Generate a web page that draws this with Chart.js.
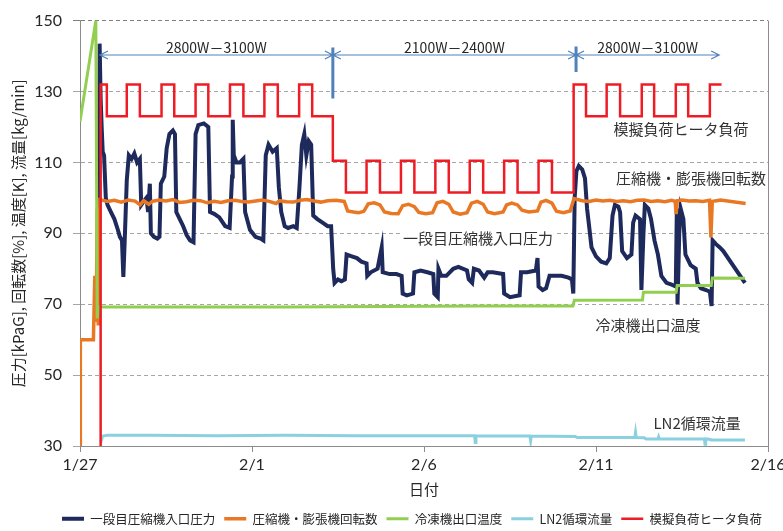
<!DOCTYPE html>
<html lang="ja">
<head>
<meta charset="utf-8">
<title>冷凍機試験データ</title>
<script src="https://cdn.jsdelivr.net/npm/chart.js@4.4.1/dist/chart.umd.min.js"></script>
<style>
  html, body { margin: 0; padding: 0; background: #fff; }
  canvas { display: block; }
</style>
</head>
<body>
<canvas id="chart1" width="783" height="531"></canvas>
<script>
    // 横軸: 1/27 からの経過日数
    var tickDays = [0, 5, 10, 15, 20];
    var tickLabels = ['1/27', '2/1', '2/6', '2/11', '2/16'];

    var seriesNames = ['一段目圧縮機入口圧力', '圧縮機・膨張機回転数', '冷凍機出口温度', 'LN2循環流量', '模擬負荷ヒータ負荷'];

    // 一段目圧縮機入口圧力 [kPaG]  ([日, 値])
    var pressData = [
        [0.55, 66], [0.57, 143.5], [0.60, 128], [0.63, 120], [0.66, 113], [0.70, 112], [0.75, 100], [0.80, 98],
        [0.90, 96], [1.00, 94], [1.10, 91], [1.16, 89], [1.22, 88], [1.26, 77.7], [1.30, 88], [1.36, 105],
        [1.42, 112], [1.50, 111], [1.58, 112.5], [1.66, 110], [1.74, 111], [1.78, 98], [1.85, 99], [1.93, 100],
        [1.98, 96], [2.03, 104], [2.06, 90], [2.15, 89], [2.25, 88.5], [2.31, 89], [2.35, 104], [2.45, 106],
        [2.52, 114], [2.60, 118], [2.70, 119], [2.76, 118], [2.80, 96], [2.90, 94], [3.00, 92], [3.10, 89.5],
        [3.20, 88], [3.30, 87.5], [3.36, 118], [3.44, 120.5], [3.60, 121], [3.73, 120], [3.78, 96], [3.90, 95.5],
        [4.05, 94.5], [4.22, 92], [4.35, 91.5], [4.42, 106], [4.44, 122], [4.47, 112], [4.55, 110], [4.65, 110],
        [4.75, 111], [4.80, 96], [4.94, 91], [5.10, 89], [5.25, 88.5], [5.33, 88], [5.40, 112], [5.48, 115],
        [5.60, 113], [5.72, 114], [5.78, 103], [5.85, 96], [5.95, 92], [6.05, 91.5], [6.20, 92], [6.30, 91.5],
        [6.38, 103], [6.45, 115], [6.52, 118], [6.58, 112], [6.65, 116], [6.72, 115], [6.78, 95], [6.90, 94],
        [7.05, 93], [7.20, 92], [7.30, 92],
        [7.36, 80], [7.40, 76], [7.50, 77], [7.60, 76.5], [7.70, 77], [7.75, 84], [7.90, 83.5], [8.05, 83],
        [8.18, 82], [8.33, 81.5], [8.35, 78], [8.45, 79], [8.65, 80], [8.77, 86], [8.80, 79], [9.00, 78.5],
        [9.20, 78.5], [9.35, 78], [9.38, 73], [9.50, 72.5], [9.68, 73], [9.72, 79], [9.90, 79.5], [10.10, 79],
        [10.27, 78.5], [10.30, 73], [10.40, 72], [10.42, 80], [10.50, 78], [10.65, 78], [10.85, 80], [11.00, 80.5],
        [11.25, 79.5], [11.30, 77], [11.40, 76], [11.45, 80], [11.60, 79.5], [11.75, 77.5], [11.85, 79], [12.00, 79],
        [12.30, 78.5], [12.33, 73], [12.50, 72], [12.78, 72.5], [12.82, 79], [13.00, 79], [13.25, 79.5], [13.30, 83],
        [13.33, 75], [13.45, 74], [13.55, 74.5], [13.65, 78], [13.80, 78], [14.00, 78], [14.20, 77.5], [14.30, 77],
        [14.34, 73], [14.38, 100], [14.43, 107.5], [14.50, 109], [14.60, 108], [14.68, 105.5], [14.74, 97], [14.80, 92],
        [14.87, 86], [15.00, 83.5], [15.15, 82], [15.30, 81.5], [15.40, 83], [15.48, 95], [15.55, 98], [15.65, 97.5],
        [15.70, 96], [15.76, 85], [15.90, 83], [16.03, 84], [16.08, 93], [16.15, 95], [16.28, 94], [16.32, 74],
        [16.38, 90], [16.42, 98], [16.52, 97], [16.60, 94], [16.70, 88], [16.80, 84], [16.90, 78], [17.05, 76],
        [17.20, 75.5], [17.32, 75], [17.35, 97], [17.37, 70], [17.42, 90], [17.46, 97], [17.54, 94], [17.60, 84],
        [17.75, 81], [17.90, 80], [17.95, 76], [18.05, 74.5], [18.20, 74], [18.31, 73.5], [18.36, 69.5], [18.39, 88],
        [18.48, 87], [18.60, 86], [18.70, 85], [19.33, 76]
    ];

    // 圧縮機・膨張機回転数 [%]
    var speedData = [
        [0.00, 30], [0.01, 60], [0.39, 60], [0.43, 78], [0.47, 65], [0.50, 97], [0.53, 64], [0.58, 99.5],
        [0.80, 99.0], [1.00, 99.3], [1.20, 98.8], [1.40, 99.4], [1.60, 99.1], [1.75, 98.0], [1.85, 99.2], [2.00, 98.2],
        [2.10, 99.0], [2.30, 99.4], [2.50, 99.1], [2.70, 99.5], [2.90, 98.7], [3.10, 98.9], [3.30, 99.3], [3.50, 99.2],
        [3.70, 98.6], [3.90, 99.0], [4.10, 98.7], [4.30, 99.2], [4.50, 99.3], [4.70, 99.0], [4.90, 98.8], [5.10, 99.1],
        [5.30, 99.4], [5.50, 99.0], [5.70, 98.4], [5.80, 99.2], [6.00, 98.9], [6.20, 98.8], [6.40, 99.3], [6.60, 99.5],
        [6.80, 99.1], [7.00, 98.8], [7.20, 99.2], [7.45, 99.3], [7.68, 99.0],
        [7.78, 96.3], [7.95, 96.0], [8.10, 95.8], [8.25, 96.2], [8.38, 98.3], [8.55, 98.6], [8.72, 98.0], [8.85, 96.0],
        [9.05, 95.6], [9.25, 95.5], [9.38, 97.8], [9.55, 98.2], [9.72, 97.5], [9.85, 95.9], [10.05, 95.5], [10.25, 95.8],
        [10.38, 98.6], [10.55, 99.0], [10.72, 98.2], [10.85, 96.0], [11.05, 95.4], [11.25, 95.8], [11.38, 98.5], [11.55, 99.0],
        [11.72, 98.2], [11.85, 96.0], [12.05, 95.5], [12.30, 96.0], [12.40, 98.0], [12.55, 98.5], [12.72, 98.0], [12.85, 96.5],
        [13.05, 96.0], [13.30, 96.3], [13.40, 98.8], [13.55, 99.3], [13.72, 98.5], [13.85, 96.2], [14.05, 95.8], [14.25, 96.3],
        [14.36, 99.8], [14.60, 99.2], [14.80, 99.0], [15.00, 99.4], [15.20, 99.1], [15.40, 99.3], [15.60, 99.0], [15.80, 99.2],
        [16.00, 98.9], [16.20, 99.3], [16.40, 99.4], [16.60, 99.0], [16.80, 99.2], [17.00, 98.9], [17.20, 99.3], [17.30, 99.0],
        [17.33, 95.4], [17.36, 99.2], [17.50, 99.4], [17.70, 99.1], [17.90, 99.2], [18.10, 99.0], [18.30, 99.3], [18.34, 88.8],
        [18.38, 99.0], [18.50, 99.2], [18.62, 99.4], [19.35, 98.4]
    ];

    // 冷凍機出口温度 [K]
    var tempData = [
        [0.00, 121.5], [0.46, 150], [0.50, 66], [0.55, 69.2], [6.00, 69.2], [11.60, 69.5], [14.33, 69.5], [14.37, 71.1],
        [16.35, 71.2], [16.38, 73.4], [17.33, 73.4], [17.36, 75.3], [18.35, 75.3], [18.38, 77.4], [19.33, 77.3]
    ];

    // LN2循環流量 [kg/min]
    var flowData = [
        [0.60, 31.0], [0.66, 32.8], [0.80, 33.0], [2.00, 33.0], [4.00, 32.9], [6.00, 33.0], [8.00, 32.9], [10.00, 32.9],
        [11.47, 32.9], [11.49, 31.0], [11.51, 32.9], [12.50, 32.8], [13.08, 32.8], [13.10, 31.5], [13.12, 32.8], [14.40, 32.7],
        [14.45, 32.4], [16.13, 32.4], [16.15, 33.8], [16.17, 32.4], [16.40, 32.3], [16.45, 32.0], [16.80, 32.0], [16.82, 32.6],
        [16.84, 32.0], [18.15, 32.0], [18.17, 30.5], [18.19, 32.0], [18.30, 31.9], [18.35, 31.7], [19.33, 31.7]
    ];

    // 模擬負荷ヒータ負荷 (切替時刻と値, 階段状)
    var heaterData = [
        [0.60, 30], [0.60, 132], [0.78, 123], [1.36, 132], [1.74, 123], [2.37, 132], [2.74, 123], [3.36, 132],
        [3.73, 123], [4.36, 132], [4.75, 123], [5.36, 132], [5.75, 123], [6.37, 132], [6.75, 123],
        [7.35, 110.5], [7.73, 101.5], [8.33, 110.5], [8.72, 101.5], [9.33, 110.5], [9.72, 101.5], [10.33, 110.5],
        [10.72, 101.5], [11.33, 110.5], [11.72, 101.5], [12.33, 110.5], [12.72, 101.5], [13.33, 110.5], [13.72, 101.5],
        [14.35, 132], [14.71, 123], [15.31, 132], [15.70, 123], [16.33, 132], [16.69, 123], [17.32, 132], [17.68, 123],
        [18.31, 132], [18.65, 132]
    ];

    // ヒータ負荷の範囲表示
    var rangeLabels = ['2800W－3100W', '2100W－2400W', '2800W－3100W'];
    var rangeBounds = [0.58, 7.35, 14.42, 18.58];

    // 系列名の書き込み位置 ([日, 値])
    var notePos = [[11.57, 88.5], [17.76, 105.5], [16.51, 64.1], [17.94, 36.4], [17.47, 119.2]];

    var jpFont = '"Noto Sans CJK JP", "Noto Sans", sans-serif';
    var numFont = 'Lato, "Open Sans", sans-serif';

    function toPoints(rows) {
        return rows.map(function (r) { return { x: r[0], y: r[1] }; });
    }

    // プロット枠の右端、凡例を少し右へ
    var framePlugin = {
        id: 'frame',
        afterLayout: function (chart) {
            if (chart.legend) {
                chart.legend.left += 28;
                chart.legend.right += 28;
            }
        },
        beforeDatasetsDraw: function (chart) {
            var a = chart.chartArea, c = chart.ctx;
            c.save();
            c.strokeStyle = '#8c8c8c';
            c.lineWidth = 1;
            c.beginPath();
            c.moveTo(Math.round(a.right) + 0.5, a.top);
            c.lineTo(Math.round(a.right) + 0.5, a.bottom);
            c.stroke();
            c.restore();
        }
    };

    // 負荷範囲の矢印と系列名
    var notePlugin = {
        id: 'notes',
        afterDatasetsDraw: function (chart) {
            var c = chart.ctx, sx = chart.scales.x, sy = chart.scales.y;
            c.save();

            var ay = sy.getPixelForValue(140.3);
            c.strokeStyle = '#4f81bd';
            c.lineWidth = 1.2;
            c.font = '14px ' + jpFont;
            c.textAlign = 'center';
            c.textBaseline = 'middle';
            for (var i = 0; i < rangeLabels.length; i++) {
                var x1 = sx.getPixelForValue(rangeBounds[i]);
                var x2 = sx.getPixelForValue(rangeBounds[i + 1]);
                c.beginPath();
                c.moveTo(x1, ay); c.lineTo(x2, ay);
                c.moveTo(x1 + 8, ay - 4); c.lineTo(x1, ay); c.lineTo(x1 + 8, ay + 4);
                c.moveTo(x2 - 8, ay - 4); c.lineTo(x2, ay); c.lineTo(x2 - 8, ay + 4);
                c.stroke();
                c.fillStyle = '#262626';
                c.fillText(rangeLabels[i], (x1 + x2) / 2, sy.getPixelForValue(142.4));
            }

            // 区切り線
            c.lineWidth = 3;
            c.beginPath();
            c.moveTo(sx.getPixelForValue(rangeBounds[1]), sy.getPixelForValue(142.4));
            c.lineTo(sx.getPixelForValue(rangeBounds[1]), sy.getPixelForValue(128));
            c.moveTo(sx.getPixelForValue(rangeBounds[2]), sy.getPixelForValue(142.7));
            c.lineTo(sx.getPixelForValue(rangeBounds[2]), sy.getPixelForValue(135.5));
            c.stroke();

            c.font = '15px ' + jpFont;
            for (var j = 0; j < seriesNames.length; j++) {
                var px = sx.getPixelForValue(notePos[j][0]);
                var py = sy.getPixelForValue(notePos[j][1]);
                var w = c.measureText(seriesNames[j]).width;
                c.fillStyle = '#ffffff';
                c.fillRect(px - w / 2 - 2, py - 9, w + 4, 18);
                c.fillStyle = '#333333';
                c.fillText(seriesNames[j], px, py);
            }
            c.restore();
        }
    };

    var ctx1 = document.getElementById('chart1').getContext('2d');
    var chart1 = new Chart(ctx1, {
        type: 'line',
        data: {
            // 後ろの系列ほど下に描かれる
            datasets: [{
                label: seriesNames[4],
                data: toPoints(heaterData),
                borderColor: '#ee1c25',
                backgroundColor: '#ee1c25',
                borderWidth: 2.5,
                stepped: true
            }, {
                label: seriesNames[3],
                data: toPoints(flowData),
                borderColor: '#8bd0df',
                backgroundColor: '#8bd0df',
                borderWidth: 3
            }, {
                label: seriesNames[2],
                data: toPoints(tempData),
                borderColor: '#92cf50',
                backgroundColor: '#92cf50',
                borderWidth: 3
            }, {
                label: seriesNames[1],
                data: toPoints(speedData),
                borderColor: '#e97825',
                backgroundColor: '#e97825',
                borderWidth: 3.5
            }, {
                label: seriesNames[0],
                data: toPoints(pressData),
                borderColor: '#1e295c',
                backgroundColor: '#1e295c',
                borderWidth: 4
            }]
        },
        options: {
            responsive: false,
            animation: false,
            layout: { padding: { top: 18, right: 15, bottom: -4, left: 0 } },
            elements: {
                point: { radius: 0 },
                line: { tension: 0, fill: false }
            },
            scales: {
                x: {
                    type: 'linear',
                    min: 0,
                    max: 20,
                    afterFit: function (scale) {
                        scale.height = 57.5;
                        scale.paddingLeft = 0;
                        scale.paddingRight = 15;
                    },
                    afterBuildTicks: function (scale) {
                        scale.ticks = tickDays.map(function (d) { return { value: d }; });
                    },
                    ticks: {
                        autoSkip: false,
                        maxRotation: 0,
                        padding: 3,
                        color: '#262626',
                        font: { family: numFont, size: 16 },
                        callback: function (v) { return tickLabels[tickDays.indexOf(v)]; }
                    },
                    grid: { drawOnChartArea: false, tickLength: 6, color: '#8c8c8c' },
                    border: { color: '#8c8c8c' },
                    title: {
                        display: true,
                        text: '日付',
                        color: '#262626',
                        font: { family: jpFont, size: 15 },
                        padding: { top: 0, bottom: 5 }
                    }
                },
                y: {
                    min: 30,
                    max: 150,
                    afterFit: function (scale) { scale.width = 80; },
                    ticks: {
                        stepSize: 20,
                        padding: 11,
                        color: '#262626',
                        font: { family: numFont, size: 16 }
                    },
                    grid: {
                        tickLength: 7,
                        color: function (c) { return c.tick && c.tick.value === 150 ? '#7f7f7f' : '#a6a6a6'; }
                    },
                    border: { color: '#8c8c8c', dash: [4, 3] },
                    title: {
                        display: true,
                        text: '圧力[kPaG], 回転数[%], 温度[K], 流量[kg/min]',
                        color: '#262626',
                        font: { family: jpFont, size: 15 },
                        padding: { top: 9, bottom: 0 }
                    }
                }
            },
            plugins: {
                legend: {
                    position: 'bottom',
                    labels: {
                        usePointStyle: true,
                        pointStyle: 'line',
                        pointStyleWidth: 22,
                        padding: 9,
                        color: '#262626',
                        font: { family: jpFont, size: 12.5 },
                        sort: function (a, b) { return b.datasetIndex - a.datasetIndex; }
                    }
                },
                tooltip: { enabled: false }
            }
        },
        plugins: [framePlugin, notePlugin]
    });
</script>
</body>
</html>
